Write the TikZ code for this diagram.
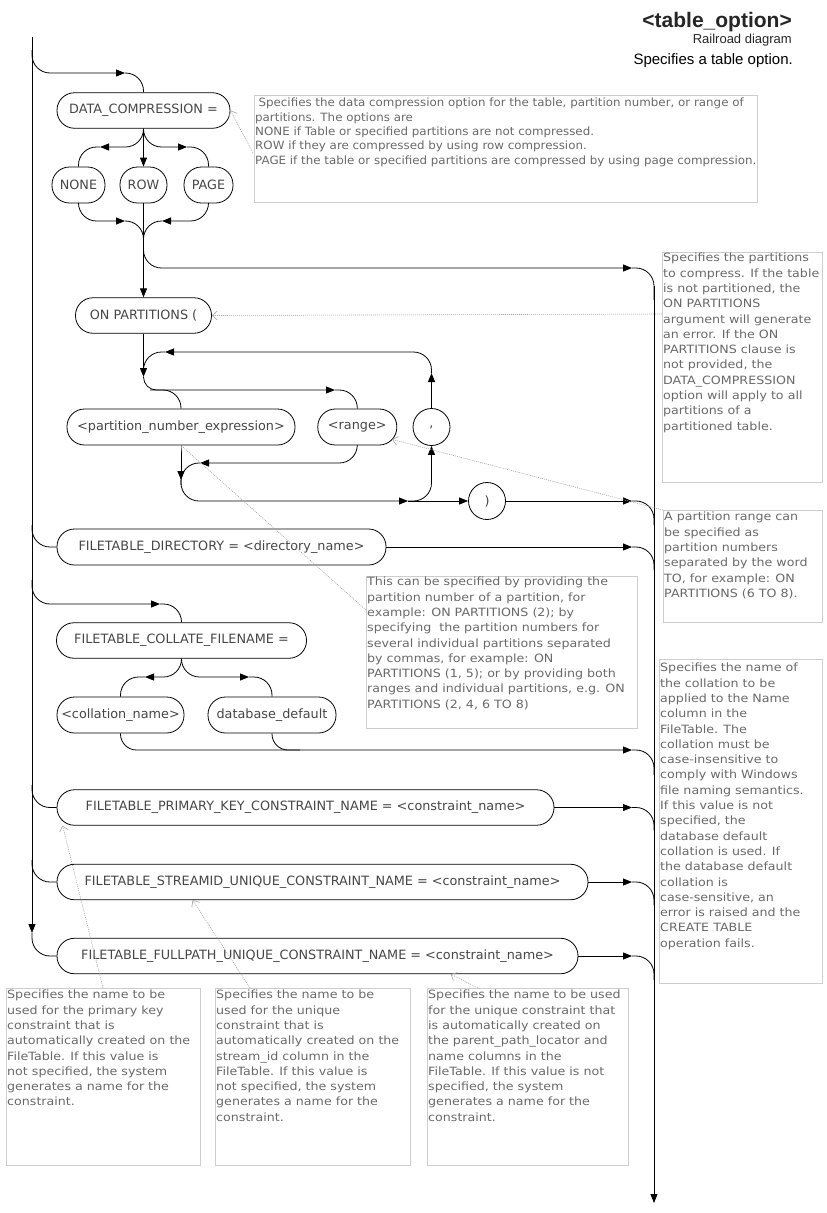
\documentclass[tikz,border=0pt]{standalone}
\usepackage{fontspec}
\setmainfont{DejaVu Sans}
\newfontfamily\ndfont{DejaVu Sans}
\newfontfamily\annfont[FakeStretch=1.11]{DejaVu Sans}
\newfontfamily\annfontB[FakeStretch=1.04]{DejaVu Sans}
\newfontfamily\ttlfont{Liberation Sans}
\usetikzlibrary{arrows.meta}
\definecolor{nodetxt}{RGB}{70,70,70}
\definecolor{anntxt}{RGB}{105,105,105}
\definecolor{annbd}{RGB}{205,205,205}
\definecolor{annln}{RGB}{165,165,165}
\begin{document}
\begin{tikzpicture}[x=1pt,y=-1pt,
  rr/.style={line width=0.8pt,draw=black,rounded corners=18pt},
  arr/.style={-{Triangle[length=9pt,width=7pt]}},
  nd/.style={draw=black,line width=0.8pt,rectangle,rounded corners=17.5pt,minimum height=35.5pt,inner sep=0pt,font=\ndfont\fontsize{12.8}{15}\selectfont,text=nodetxt},
  circ/.style={draw=black,line width=0.8pt,circle,minimum size=37pt,inner sep=0pt,font=\ndfont\fontsize{12.8}{15}\selectfont,text=nodetxt},
  annbox/.style={draw=annbd,line width=0.8pt,rectangle,inner sep=0pt,anchor=north west},
  anntext/.style={anchor=north west,align=left,inner sep=0pt,font=\annfont\fontsize{11.4}{15.3}\selectfont,text=anntxt},
  annline/.style={draw=annln,line width=0.6pt,dash pattern=on 1pt off 1pt,-{Straight Barb[length=5pt,width=9pt]}}
]
\useasboundingbox (0,0) rectangle (827,1213);

% ---------- title ----------
\node[anchor=base east,inner sep=0pt,font=\ttlfont\bfseries\fontsize{21}{24}\selectfont,text=black!85] (ttl) at (792,27) {<table\_option>};
\node[anchor=base east,inner sep=0pt,font=\ttlfont\fontsize{13}{15}\selectfont,text=black!85] (sub) at (792,43) {Railroad diagram};
\node[anchor=base east,inner sep=0pt,font=\ttlfont\fontsize{15}{17}\selectfont,text=black] (desc) at (793,64) {Specifies a table option.};

% ---------- nodes ----------
\node[nd,minimum width=173pt] (dc) at (143.5,110.5) {DATA\_COMPRESSION =};
\node[nd,minimum width=53pt,minimum height=36pt] (none) at (78.5,185) {NONE};
\node[nd,minimum width=47pt,minimum height=36pt] (row) at (143.5,185) {ROW};
\node[nd,minimum width=49pt,minimum height=36pt] (page) at (208.5,185) {PAGE};
\node[nd,minimum width=136pt] (onp) at (143.5,315.5) {ON PARTITIONS (};
\node[nd,minimum width=228pt,minimum height=36pt] (pne) at (181,427) {<partition\_number\_expression>};
\node[nd,minimum width=79pt,minimum height=36pt] (rng) at (357.3,427) {<range>};
\node[circ] (comma) at (431.5,427) {,};
\node[circ] (close) at (487,501) {)};
\node[nd,minimum width=329pt,minimum height=36pt] (dir) at (221.5,547) {FILETABLE\_DIRECTORY = <directory\_name>};
\node[nd,minimum width=250pt] (col) at (181.5,640.5) {FILETABLE\_COLLATE\_FILENAME =};
\node[nd,minimum width=127pt,minimum height=36pt] (cname) at (120.5,715) {<collation\_name>};
\node[nd,minimum width=128pt,minimum height=36pt] (dbd) at (272,715) {database\_default};
\node[nd,minimum width=497pt] (pk) at (305.5,807.5) {FILETABLE\_PRIMARY\_KEY\_CONSTRAINT\_NAME = <constraint\_name>};
\node[nd,minimum width=531pt] (sid) at (322.5,882) {FILETABLE\_STREAMID\_UNIQUE\_CONSTRAINT\_NAME = <constraint\_name>};
\node[nd,minimum width=521pt] (fp) at (317.5,956) {FILETABLE\_FULLPATH\_UNIQUE\_CONSTRAINT\_NAME = <constraint\_name>};

% ---------- junction coordinates ----------
\coordinate (railtop) at (32,37);
\coordinate (railarr) at (32,933);
\coordinate (rrtop) at (654,286);
\coordinate (rrend) at (654,1203);
\coordinate (aDC) at (125,73);
\coordinate (aNone) at (100,147);
\coordinate (aPage) at (187,147);
\coordinate (mNone) at (125,221);
\coordinate (mPage) at (162,221);
\coordinate (mJoin) at (143.5,245);
\coordinate (aBy) at (632,268);
\coordinate (aDown) at (143.5,377);
\coordinate (aRng) at (335,390);
\coordinate (bPne) at (150,390);
\coordinate (aUp) at (431.5,373);
\coordinate (aLoop) at (165,352);
\coordinate (jLoop) at (143.5,372);
\coordinate (aRb) at (200,463);
\coordinate (jRb) at (181,485);
\coordinate (aPd) at (181,480);
\coordinate (aBot) at (408,501);
\coordinate (aCl) at (632,501);
\coordinate (aDir) at (632,547);
\coordinate (aCol) at (160,604);
\coordinate (aCn) at (145,677);
\coordinate (aDb) at (249,677);
\coordinate (aMg) at (632,750);
\coordinate (jMg) at (300,750);
\coordinate (aPk) at (632,807.5);
\coordinate (aSid) at (632,882);
\coordinate (aFp) at (632,956);

% ---------- rails ----------
\draw[rr,arr] (railtop) -- (railarr);
\draw[rr] (railarr) |- (fp.west);
\draw[rr,arr] (rrtop) -- (rrend);

% DATA_COMPRESSION block
\draw[rr,arr] (32,50) |- (aDC);
\draw[rr] (aDC) -| (dc.north);
\draw[rr,arr] (dc.south) -- (row.north);
\draw[rr,arr] (dc.south) |- (aNone);
\draw[rr] (aNone) -| (none.north);
\draw[rr,arr] (dc.south) |- (aPage);
\draw[rr] (aPage) -| (page.north);
\draw[rr,arr] (none.south) |- (mNone);
\draw[rr] (mNone) -| (mJoin);
\draw[rr,arr] (page.south) |- (mPage);
\draw[rr] (mPage) -| (mJoin);
\draw[rr,arr] (row.south) -- (onp.north);
\draw[rr,arr] (mJoin) |- (aBy);
\draw[rr] (aBy) -| (654,300);

% ON PARTITIONS block
\draw[rr,arr] (onp.south) -- (aDown);
\draw[rr,rounded corners=13pt,arr] (aDown) |- (aRng);
\draw[rr] (aRng) -| (rng.north);
\draw[rr] (bPne) -| (pne.north);
\draw[rr,arr] (comma.north) -- (aUp);
\draw[rr,arr] (aUp) |- (aLoop);
\draw[rr] (aLoop) -| (jLoop);
\draw[rr,arr] (rng.south) |- (aRb);
\draw[rr] (aRb) -| (jRb);
\draw[rr,arr] (pne.south) -- (aPd);
\draw[rr,arr] (aPd) |- (aBot);
\draw[rr,arr] (aBot) -- (close.west);
\draw[rr,arr] (aBot) -| (comma.south);
\draw[rr,arr] (close.east) -- (aCl);
\draw[rr] (aCl) -| (654,525);

% FILETABLE_DIRECTORY
\draw[rr] (32,525) |- (dir.west);
\draw[rr,arr] (dir.east) -- (aDir);
\draw[rr] (aDir) -| (654,570);

% FILETABLE_COLLATE_FILENAME
\draw[rr,arr] (32,580) |- (aCol);
\draw[rr] (aCol) -| (col.north);
\draw[rr,arr] (col.south) |- (aCn);
\draw[rr] (aCn) -| (cname.north);
\draw[rr,arr] (col.south) |- (aDb);
\draw[rr] (aDb) -| (dbd.north);
\draw[rr,rounded corners=16pt,arr] (cname.south) |- (aMg);
\draw[rr,rounded corners=16pt] (dbd.south) |- (jMg);
\draw[rr] (aMg) -| (654,775);

% constraint names
\draw[rr] (32,785) |- (pk.west);
\draw[rr,arr] (pk.east) -- (aPk);
\draw[rr] (aPk) -| (654,830);
\draw[rr] (32,860) |- (sid.west);
\draw[rr,arr] (sid.east) -- (aSid);
\draw[rr] (aSid) -| (654,905);
\draw[rr,arr] (fp.east) -- (aFp);
\draw[rr] (aFp) -| (654,980);

% ---------- annotation boxes ----------
\node[annbox,minimum width=503pt,minimum height=107pt] (b1) at (254,95) {};
\node[anntext,font=\annfontB\fontsize{11.4}{14.3}\selectfont] (t1) at (255,98) {\hspace*{0.3em}Specifies the data compression option for the table, partition number, or range of\\partitions. The options are\\NONE if Table or specified partitions are not compressed.\\ROW if they are compressed by using row compression.\\PAGE if the table or specified partitions are compressed by using page compression.};

\node[annbox,minimum width=160pt,minimum height=230pt] (b2) at (662,252) {};
\node[anntext] (t2) at (663,253) {Specifies the partitions\\to compress. If the table\\is not partitioned, the\\ON PARTITIONS\\argument will generate\\an error. If the ON\\PARTITIONS clause is\\not provided, the\\DATA\_COMPRESSION\\option will apply to all\\partitions of a\\partitioned table.};

\node[annbox,minimum width=159pt,minimum height=112pt] (b3) at (663,510) {};
\node[anntext] (t3) at (664,512) {A partition range can\\be specified as\\partition numbers\\separated by the word\\TO, for example: ON\\PARTITIONS (6 TO 8).};

\node[annbox,minimum width=271pt,minimum height=152pt] (b4) at (366,576) {};
\node[anntext] (t4) at (367,577) {This can be specified by providing the\\partition number of a partition, for\\example: ON PARTITIONS (2); by\\specifying\ \ the partition numbers for\\several individual partitions separated\\by commas, for example: ON\\PARTITIONS (1, 5); or by providing both\\ranges and individual partitions, e.g. ON\\PARTITIONS (2, 4, 6 TO 8)};

\node[annbox,minimum width=163pt,minimum height=324pt] (b5) at (659,659) {};
\node[anntext] (t5) at (660,663) {Specifies the name of\\the collation to be\\applied to the Name\\column in the\\FileTable. The\\collation must be\\case-insensitive to\\comply with Windows\\file naming semantics.\\If this value is not\\specified, the\\database default\\collation is used. If\\the database default\\collation is\\case-sensitive, an\\error is raised and the\\CREATE TABLE\\operation fails.};

\node[annbox,minimum width=194pt,minimum height=177pt] (b6) at (6,988) {};
\node[anntext] (t6) at (7,990) {Specifies the name to be\\used for the primary key\\constraint that is\\automatically created on the\\FileTable. If this value is\\not specified, the system\\generates a name for the\\constraint.};

\node[annbox,minimum width=195pt,minimum height=177pt] (b7) at (215,988) {};
\node[anntext] (t7) at (216,990) {Specifies the name to be\\used for the unique\\constraint that is\\automatically created on the\\stream\_id column in the\\FileTable. If this value is\\not specified, the system\\generates a name for the\\constraint.};

\node[annbox,minimum width=201pt,minimum height=177pt] (b8) at (427,988) {};
\node[anntext] (t8) at (428,990) {Specifies the name to be used\\for the unique constraint that\\is automatically created on\\the parent\_path\_locator and\\name columns in the\\FileTable. If this value is not\\specified, the system\\generates a name for the\\constraint.};

% ---------- annotation connectors ----------
\coordinate (c1) at (253,153);
\coordinate (c2) at (662,314);
\coordinate (c3) at (663,510);
\coordinate (c4) at (366,610);
\coordinate (c6) at (103,988);
\coordinate (c7) at (250,988);
\coordinate (c8) at (478,988);
\draw[annline] (c1) -- (dc.east);
\draw[annline] (c2) -- (onp.east);
\draw[annline] (c3) -- ([xshift=-5pt,yshift=6pt]rng.south east);
\draw[annline] (c4) -- (pne.south);
\draw[annline] (c6) -- ([xshift=6pt]pk.south west);
\draw[annline] (c7) -- ([xshift=136pt]sid.south west);
\draw[annline] (c8) -- ([xshift=394pt]fp.south west);
\end{tikzpicture}
\end{document}
